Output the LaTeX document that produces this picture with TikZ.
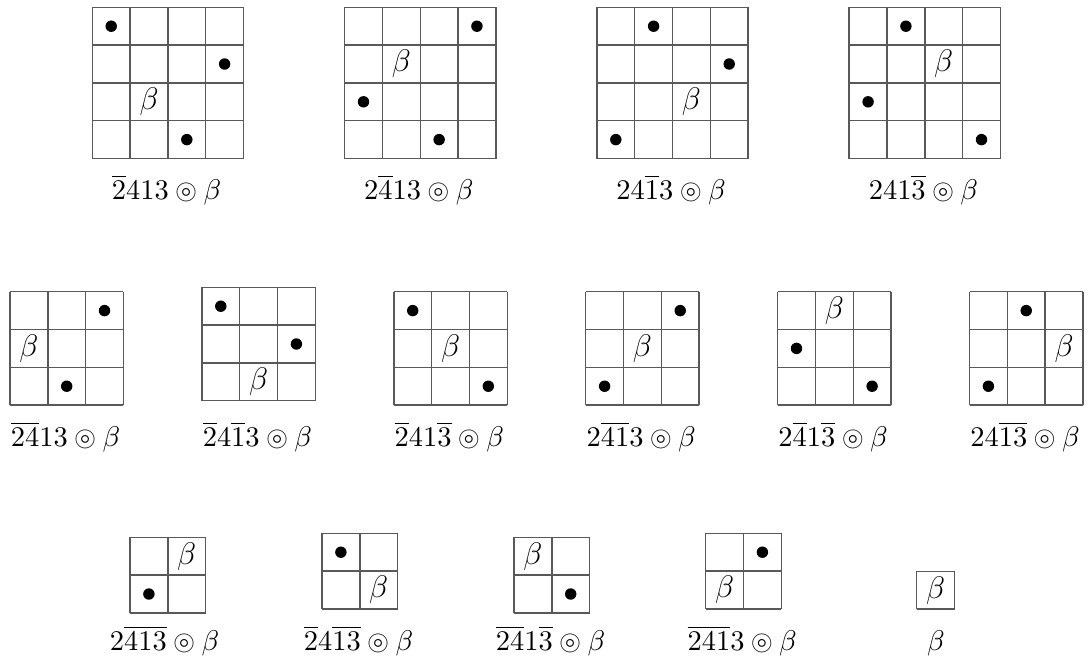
\documentclass[tikz,border=0pt]{standalone}
\usepackage{amsmath,amssymb}
\usetikzlibrary{positioning}
\tikzset{
  gridline/.style={draw=black!65, line width=0.55pt},
  betacell/.style={inner sep=0pt, font=\large},
  permlabel/.style={anchor=base, inner sep=0pt, font=\fontsize{10.9}{13}\selectfont},
}
% n x n cells, unit = one cell
\newcommand{\cellgrid}[1]{%
  \foreach \k in {0,...,#1} {
    \draw[gridline] (\k,0) -- (\k,#1);
    \draw[gridline] (0,\k) -- (#1,\k);
  }}
\newcommand{\dotat}[2]{\fill (#1-0.5,#2-0.5) circle (2.2pt);}

\begin{document}
\begin{tikzpicture}[x=0.3846pt, y=-0.3846pt]
  \useasboundingbox (0,0) rectangle (1088,664);

  % row 1: one barred entry
  \begin{scope}[shift={(92.3,7.3)}, x=14.54pt, y=-14.54pt]
    \cellgrid{4}
    \dotat{1}{1} \dotat{4}{2} \dotat{3}{4}
    \node[betacell] (ba) at (1.5,2.5) {$\beta$};
  \end{scope}
  \begin{scope}[shift={(344.6,7.3)}, x=14.54pt, y=-14.54pt]
    \cellgrid{4}
    \dotat{4}{1} \dotat{1}{3} \dotat{3}{4}
    \node[betacell] (bb) at (1.5,1.5) {$\beta$};
  \end{scope}
  \begin{scope}[shift={(596.9,7.3)}, x=14.54pt, y=-14.54pt]
    \cellgrid{4}
    \dotat{2}{1} \dotat{4}{2} \dotat{1}{4}
    \node[betacell] (bc) at (2.5,2.5) {$\beta$};
  \end{scope}
  \begin{scope}[shift={(849.2,7.3)}, x=14.54pt, y=-14.54pt]
    \cellgrid{4}
    \dotat{2}{1} \dotat{1}{3} \dotat{4}{4}
    \node[betacell] (bd) at (2.5,1.5) {$\beta$};
  \end{scope}
  \node[permlabel] (la) at (166.5,199) {$\overline{2}413 \circledcirc \beta$};
  \node[permlabel] (lb) at (418.8,199) {$2\overline{4}13 \circledcirc \beta$};
  \node[permlabel] (lc) at (671.1,199) {$24\overline{1}3 \circledcirc \beta$};
  \node[permlabel] (ld) at (923.4,199) {$241\overline{3} \circledcirc \beta$};

  % row 2: two barred entries
  \begin{scope}[shift={(10,291.7)}, x=14.54pt, y=-14.54pt]
    \cellgrid{3}
    \dotat{3}{1} \dotat{2}{3}
    \node[betacell] (be) at (0.5,1.5) {$\beta$};
  \end{scope}
  \begin{scope}[shift={(201.9,287.3)}, x=14.54pt, y=-14.54pt]
    \cellgrid{3}
    \dotat{1}{1} \dotat{3}{2}
    \node[betacell] (bf) at (1.5,2.5) {$\beta$};
  \end{scope}
  \begin{scope}[shift={(393.8,291.7)}, x=14.54pt, y=-14.54pt]
    \cellgrid{3}
    \dotat{1}{1} \dotat{3}{3}
    \node[betacell] (bg) at (1.5,1.5) {$\beta$};
  \end{scope}
  \begin{scope}[shift={(585.7,291.7)}, x=14.54pt, y=-14.54pt]
    \cellgrid{3}
    \dotat{3}{1} \dotat{1}{3}
    \node[betacell] (bh) at (1.5,1.5) {$\beta$};
  \end{scope}
  \begin{scope}[shift={(777.6,291.7)}, x=14.54pt, y=-14.54pt]
    \cellgrid{3}
    \dotat{1}{2} \dotat{3}{3}
    \node[betacell] (bi) at (1.5,0.5) {$\beta$};
  \end{scope}
  \begin{scope}[shift={(969.5,291.7)}, x=14.54pt, y=-14.54pt]
    \cellgrid{3}
    \dotat{2}{1} \dotat{1}{3}
    \node[betacell] (bj) at (2.5,1.5) {$\beta$};
  \end{scope}
  \node[permlabel] (le) at (65.5,446)   {$\overline{24}13 \circledcirc \beta$};
  \node[permlabel] (lf) at (257.4,446)  {$\overline{2}4\overline{1}3 \circledcirc \beta$};
  \node[permlabel] (lg) at (449.3,446)  {$\overline{2}41\overline{3} \circledcirc \beta$};
  \node[permlabel] (lh) at (641.2,446)  {$2\overline{41}3 \circledcirc \beta$};
  \node[permlabel] (li) at (833.1,446)  {$2\overline{4}1\overline{3} \circledcirc \beta$};
  \node[permlabel] (lj) at (1025.0,446) {$24\overline{13} \circledcirc \beta$};

  % row 3: three barred entries
  \begin{scope}[shift={(130,537.3)}, x=14.54pt, y=-14.54pt]
    \cellgrid{2}
    \dotat{1}{2}
    \node[betacell] (bk) at (1.5,0.5) {$\beta$};
  \end{scope}
  \begin{scope}[shift={(322,533.3)}, x=14.54pt, y=-14.54pt]
    \cellgrid{2}
    \dotat{1}{1}
    \node[betacell] (bl) at (1.5,1.5) {$\beta$};
  \end{scope}
  \begin{scope}[shift={(514,537.3)}, x=14.54pt, y=-14.54pt]
    \cellgrid{2}
    \dotat{2}{2}
    \node[betacell] (bm) at (0.5,0.5) {$\beta$};
  \end{scope}
  \begin{scope}[shift={(705.7,533.3)}, x=14.54pt, y=-14.54pt]
    \cellgrid{2}
    \dotat{2}{1}
    \node[betacell] (bn) at (0.5,1.5) {$\beta$};
  \end{scope}
  \begin{scope}[shift={(916.7,571.3)}, x=14.54pt, y=-14.54pt]
    \cellgrid{1}
    \node[betacell] (bo) at (0.5,0.5) {$\beta$};
  \end{scope}
  \node[permlabel] (lk) at (164.5,650) {$2\overline{413} \circledcirc \beta$};
  \node[permlabel] (ll) at (358.5,650) {$\overline{2}4\overline{13} \circledcirc \beta$};
  \node[permlabel] (lm) at (550.5,650) {$\overline{24}1\overline{3} \circledcirc \beta$};
  \node[permlabel] (ln) at (742.2,650) {$\overline{241}3 \circledcirc \beta$};
  \node[permlabel] (lo) at (935.9,650) {$\beta$};
\end{tikzpicture}
\end{document}
